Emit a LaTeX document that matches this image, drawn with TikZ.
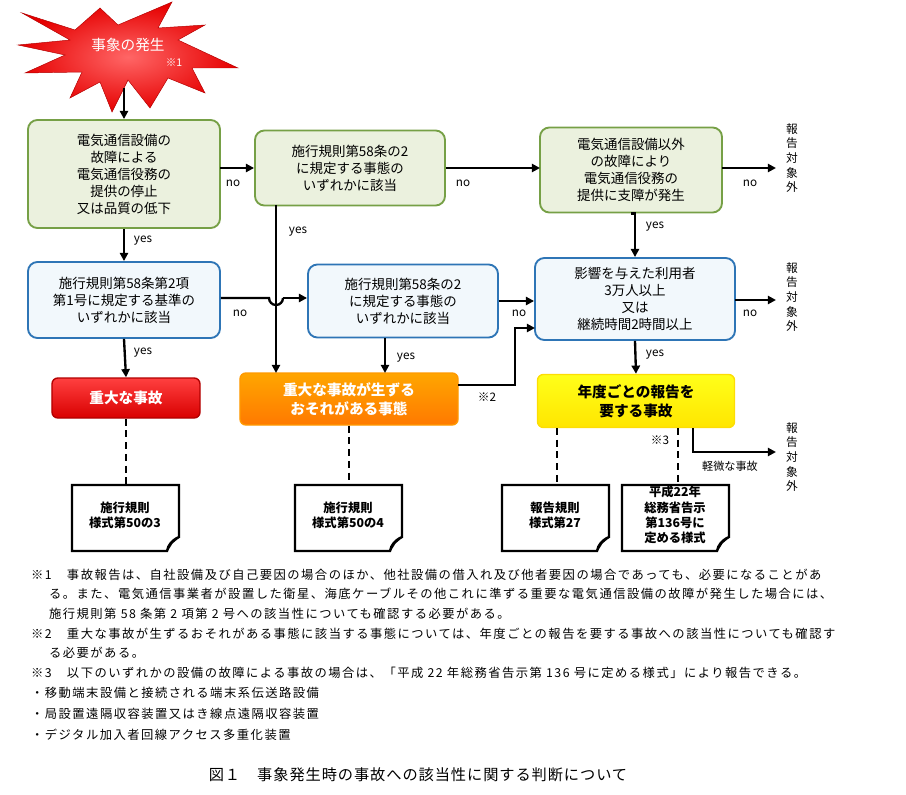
\documentclass[tikz,border=0pt]{standalone}
\usepackage{fontspec}
\setmainfont{Noto Sans CJK JP}
\usetikzlibrary{arrows.meta}
\definecolor{gbd}{RGB}{118,160,70}\definecolor{gfl}{RGB}{235,241,222}
\definecolor{bbd}{RGB}{46,117,182}\definecolor{bfl}{RGB}{242,248,252}
\begin{document}
\begin{tikzpicture}[x=0.03cm,y=-0.03cm,
 every node/.style={font=\fontsize{11.5}{14.5}\selectfont},
 gbox/.style={draw=gbd,fill=gfl,line width=1.6pt,rounded corners=8pt,align=center,inner sep=2pt},
 bbox/.style={draw=bbd,fill=bfl,line width=1.6pt,rounded corners=8pt,align=center,inner sep=2pt},
 res/.style={rounded corners=5pt,align=center,font=\fontsize{12.5}{16}\bfseries\selectfont,line width=1.2pt},
 arr/.style={line width=2pt,-{Triangle[length=7pt,width=7pt]}},
 dsh/.style={line width=2pt,dash pattern=on 6pt off 4pt},
 lbl/.style={font=\fontsize{10}{12}\selectfont},
 vout/.style={font=\fontsize{10}{12.5}\selectfont,align=center},
 note/.style={anchor=west,font=\fontsize{10.5}{12}\selectfont\addfontfeatures{LetterSpace=12}},
 doc/.style={line width=2pt,fill=white}]
\useasboundingbox (0,0) rectangle (906,795);
% star
\shade[inner color=red!60!white,outer color=red!90!black,draw=red!70!black]
 (22,13)--(75,30)--(100,8)--(118,25)--(172,2)--(158,28)--(205,25)--(178,40)--(238,68)--(192,68)--(205,93)--(168,78)--(150,108)--(128,80)--(112,112)--(100,82)--(70,98)--(82,72)--(25,73)--(65,55)--(18,45)--(70,40)--cycle;
\node[text=white,font=\fontsize{12.5}{14}\selectfont] (star) at (128,45) {事象の発生};
\node[text=white,font=\fontsize{9}{11}\selectfont] (n1) at (174,63) {※1};
\coordinate (starb) at (124,88);
% boxes
\node[gbox,minimum width=5.76cm,minimum height=3.24cm] (A) at (124,174) {電気通信設備の\\故障による\\電気通信役務の\\提供の停止\\又は品質の低下};
\node[gbox,minimum width=5.7cm,minimum height=2.25cm] (B) at (350,168) {施行規則第58条の2\\に規定する事態の\\いずれかに該当};
\node[gbox,minimum width=5.46cm,minimum height=2.55cm] (C) at (631,170) {電気通信設備以外\\の故障により\\電気通信役務の\\提供に支障が発生};
\node[bbox,minimum width=5.76cm,minimum height=2.28cm] (D) at (124,300) {施行規則第58条第2項\\第1号に規定する基準の\\いずれかに該当};
\node[bbox,minimum width=5.7cm,minimum height=2.19cm] (E) at (403,301) {施行規則第58条の2\\に規定する事態の\\いずれかに該当};
\node[bbox,minimum width=6.0cm,minimum height=2.46cm] (F) at (635,299) {影響を与えた利用者\\3万人以上\\又は\\継続時間2時間以上};
\node[res,draw=red!70!black,top color=red!75!white,bottom color=red!85!black,text=white,minimum width=4.44cm,minimum height=1.2cm] (G) at (126,398) {重大な事故};
\node[res,draw=orange!80!yellow,top color=orange!70!yellow,bottom color=orange!95!red,text=white,minimum width=6.54cm,minimum height=1.56cm] (H) at (349,399) {重大な事故が生ずる\\おそれがある事態};
\node[res,draw=yellow!80!orange,top color=yellow!90!white,bottom color=yellow!80!orange,text=black,minimum width=5.91cm,minimum height=1.59cm] (I) at (636,401) {年度ごとの報告を\\要する事故};
% out labels
\node[vout] (o1) at (792,158) {報\\告\\対\\象\\外};
\node[vout] (o2) at (792,297) {報\\告\\対\\象\\外};
\node[vout] (o3) at (792,457) {報\\告\\対\\象\\外};
% coordinates
\coordinate (ab) at (220,168);
\coordinate (bc) at (540,168);
\coordinate (c1) at (722,168); \coordinate (out1) at (776,168);
\coordinate (f1) at (735,300); \coordinate (out2) at (776,300);
\coordinate (by1) at (276,205); \coordinate (by2) at (276,373);
\coordinate (h1) at (269,298); \coordinate (h2) at (283,298);
\coordinate (ey1) at (385,338); \coordinate (ey2) at (385,373);
\coordinate (hf1) at (458,385); \coordinate (hf2) at (515,385); \coordinate (hf3) at (515,328); \coordinate (hf4) at (535,328);
\coordinate (i1) at (693,428); \coordinate (i2) at (693,452); \coordinate (out3) at (776,452);
% connectors
\draw[arr] (starb) -- (A.north);
\draw[arr] (ab) -- (B.west|-ab);
\draw[arr] (B.east|-bc) -- (bc);
\draw[arr] (c1) -- (out1);
\draw[arr] (A.south) -- (D.north);
\draw[arr] (by1) -- (by2);
\draw[line width=2pt] (D.east|-h1) -- (h1) arc (180:0:7);
\draw[arr] (h2) -- (E.west|-h2);
\draw[arr] (E.east) -- (F.west|-E.east);
\draw[arr] (f1) -- (out2);
\draw[arr] (C.south) -- (F.north|-C.south) -- (F.north);
\draw[arr] (D.south) -- (G.north);
\draw[arr] (ey1) -- (ey2);
\draw[arr] (F.south) -- (I.north);
\draw[arr] (hf1) -- (hf2) -- (hf3) -- (hf4);
\draw[arr] (i1) -- (i2) -- (out3);
% labels
\node[lbl] (l1) at (233,183) {no};
\node[lbl] (l2) at (463,183) {no};
\node[lbl] (l3) at (750,183) {no};
\node[lbl] (l4) at (143,241) {yes};
\node[lbl] (l5) at (298,232) {yes};
\node[lbl] (l6) at (655,227) {yes};
\node[lbl] (l7) at (240,313) {no};
\node[lbl] (l8) at (519,313) {no};
\node[lbl] (l9) at (750,313) {no};
\node[lbl] (l10) at (143,353) {yes};
\node[lbl] (l11) at (406,358) {yes};
\node[lbl] (l12) at (655,355) {yes};
\node[lbl] (l13) at (487,397) {※2};
\node[lbl] (l14) at (660,440) {※3};
\node[lbl,font=\fontsize{9.5}{11}\selectfont] (l15) at (730,466) {軽微な事故};
% docs
\foreach \n/\x/\t in {d1/72/{施行規則\\様式第50の3},d2/295/{施行規則\\様式第50の4},d3/502/{報告規則\\様式第27},d4/622/{平成22年\\総務省告示\\第136号に\\定める様式}}{
 \draw[doc] (\x,485) -- (\x+107,485) -- (\x+107,537) .. controls (\x+100,540) and (\x+96,545) .. (\x+95,551) -- (\x,551) -- cycle;
 \draw[line width=1.2pt] (\x+107,537) -- (\x+100,543) -- (\x+95,551);
 \node[align=center,font=\fontsize{10.5}{13}\selectfont\bfseries] (\n) at (\x+53,515) {\t};
}
\draw[dsh] (G.south) -- (126,485);
\draw[dsh] (H.south) -- (349,485);
\draw[dsh] (557,428) -- (557,485);
\draw[dsh] (678,428) -- (678,485);
% notes
\node[note] (t1) at (27,575) {※1　事故報告は、自社設備及び自己要因の場合のほか、他社設備の借入れ及び他者要因の場合であっても、必要になることがあ};
\node[note] (t2) at (45,594) {る。また、電気通信事業者が設置した衛星、海底ケーブルその他これに準ずる重要な電気通信設備の故障が発生した場合には、};
\node[note] (t3) at (45,614) {施行規則第 58 条第 2 項第 2 号への該当性についても確認する必要がある。};
\node[note] (t4) at (27,634) {※2　重大な事故が生ずるおそれがある事態に該当する事態については、年度ごとの報告を要する事故への該当性についても確認す};
\node[note] (t5) at (45,653) {る必要がある。};
\node[note] (t6) at (27,673) {※3　以下のいずれかの設備の故障による事故の場合は、「平成 22 年総務省告示第 136 号に定める様式」により報告できる。};
\node[note] (t7) at (27,693) {・移動端末設備と接続される端末系伝送路設備};
\node[note] (t8) at (27,714) {・局設置遠隔収容装置又はき線点遠隔収容装置};
\node[note] (t9) at (27,735) {・デジタル加入者回線アクセス多重化装置};
\node[font=\fontsize{13}{15}\selectfont\addfontfeatures{LetterSpace=6}] (cap) at (418,775) {図１　事象発生時の事故への該当性に関する判断について};
\end{tikzpicture}
\end{document}
